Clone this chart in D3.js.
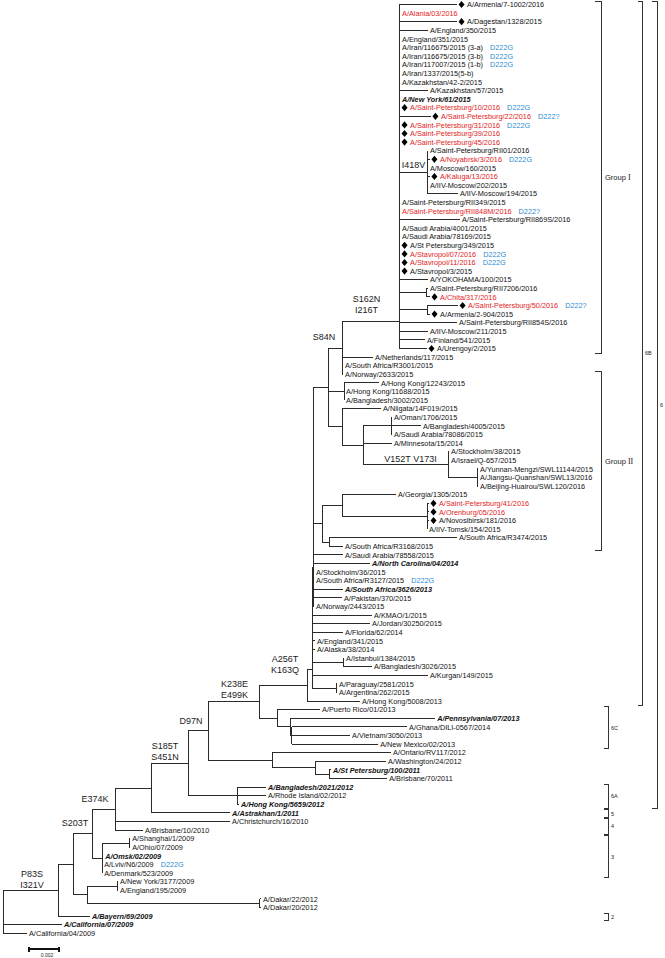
<!DOCTYPE html>
<html><head><meta charset="utf-8">
<script src="https://cdn.jsdelivr.net/npm/d3@7"></script>
<style>body{margin:0;background:#fff}</style>
</head><body>
<svg id="chart" width="665" height="958"></svg>
<script>
// ---------------- DATA ----------------
const strains = [
"A/Armenia/7-1002/2016","A/Alania/03/2016","A/Dagestan/1328/2015","A/England/350/2015","A/England/351/2015",
"A/Iran/116675/2015 (3-a)","A/Iran/116675/2015 (3-b)","A/Iran/117007/2015 (1-b)","A/Iran/1337/2015(5-b)","A/Kazakhstan/42-2/2015",
"A/Kazakhstan/57/2015","A/New York/61/2015","A/Saint-Petersburg/10/2016","A/Saint-Petersburg/22/2016","A/Saint-Petersburg/31/2016",
"A/Saint-Petersburg/39/2016","A/Saint-Petersburg/45/2016","A/Saint-Petersburg/RII01/2016","A/Noyabrsk/3/2016","A/Moscow/160/2015",
"A/Kaluga/13/2016","A/IIV-Moscow/202/2015","A/IIV-Moscow/194/2015","A/Saint-Petersburg/RII349/2015","A/Saint-Petersburg/RII848M/2016",
"A/Saint-Petersburg/RII869S/2016","A/Saudi Arabia/4001/2015","A/Saudi Arabia/78169/2015","A/St Petersburg/349/2015","A/Stavropol/07/2016",
"A/Stavropol/11/2016","A/Stavropol/3/2015","A/YOKOHAMA/100/2015","A/Saint-Petersburg/RII7206/2016","A/Chita/317/2016",
"A/Saint-Petersburg/50/2016","A/Armenia/2-904/2015","A/Saint-Petersburg/RII854S/2016","A/IIV-Moscow/211/2015","A/Finland/541/2015",
"A/Urengoy/2/2015","A/Netherlands/117/2015","A/South Africa/R3001/2015","A/Norway/2633/2015","A/Hong Kong/12243/2015",
"A/Hong Kong/11688/2015","A/Bangladesh/3002/2015","A/Niigata/14F019/2015","A/Oman/1706/2015","A/Bangladesh/4005/2015",
"A/Saudi Arabia/78086/2015","A/Minnesota/15/2014","A/Stockholm/38/2015","A/Israel/Q-657/2015","A/Yunnan-Mengzi/SWL11144/2015",
"A/Jiangsu-Quanshan/SWL13/2016","A/Beijing-Huairou/SWL120/2016","A/Georgia/1305/2015","A/Saint-Petersburg/41/2016","A/Orenburg/05/2016",
"A/Novosibirsk/181/2016","A/IIV-Tomsk/154/2015","A/South Africa/R3474/2015","A/South Africa/R3168/2015","A/Saudi Arabia/78558/2015",
"A/North Carolina/04/2014","A/Stockholm/36/2015","A/South Africa/R3127/2015","A/South Africa/3626/2013","A/Pakistan/370/2015",
"A/Norway/2443/2015","A/KMAO/1/2015","A/Jordan/30250/2015","A/Florida/62/2014","A/England/341/2015",
"A/Alaska/38/2014","A/Istanbul/1384/2015","A/Bangladesh/3026/2015","A/Kurgan/149/2015","A/Paraguay/2581/2015",
"A/Argentina/262/2015","A/Hong Kong/5008/2013","A/Puerto Rico/01/2013","A/Pennsylvania/07/2013","A/Ghana/DILI-0567/2014",
"A/Vietnam/3050/2013","A/New Mexico/02/2013","A/Ontario/RV117/2012","A/Washington/24/2012","A/St Petersburg/100/2011",
"A/Brisbane/70/2011","A/Bangladesh/2021/2012","A/Rhode Island/02/2012","A/Hong Kong/5659/2012","A/Astrakhan/1/2011",
"A/Christchurch/16/2010","A/Brisbane/10/2010","A/Shanghai/1/2009","A/Ohio/07/2009","A/Omsk/02/2009",
"A/Lviv/N6/2009","A/Denmark/523/2009","A/New York/3177/2009","A/England/195/2009","A/Dakar/22/2012",
"A/Dakar/20/2012","A/Bayern/69/2009","A/California/07/2009","A/California/04/2009"
];

// Tree topology (leaf names = index into strains), branch lengths in substitutions/site
const groupITree =
 "((((((0:0.00387,1:0.00007,2:0.00387,3:0.00193,4:0.00007,5:0.00007,6:0.00007,7:0.00007,8:0.00007,9:0.00007," +
 "10:0.00193,11:0.00007,12:0.00007,13:0.00213,14:0.00007,15:0.00007,16:0.00007," +
 "(17:0,18:0.00013,19:0,20:0.00013,21:0,22:0.002)I418V:0.00193," +
 "23:0.00007,24:0.00007,25:0.00407,26:0.00007,27:0.00007,28:0.00007,29:0.00007,30:0.00007,31:0.00007):0," +
 "32:0.00193):0,(33:0.00013,34:0.00027):0.0018,(35:0.00207,36:0.0002):0.00187):0," +
 "37:0.00387,38:0.00193):0,39:0.00173,40:0.00187)S162N";
const clade6BTree =
 "((((((((((" + groupITree + ":0.0038,41:0.00207,42:0.00007,43:0.00007)S84N:0.00093," +
 "(44:0.00233,45:0,46:0):0.00107," +
 "(47:0.0026,((48:0,49:0.00193,50:0):0.00193,51:0.00193,(52:0.00007,53:0.00007,(54:0.00007,55:0.00007,56:0.00007):0.00193)V152T:0.00567):0.0014):0.00093):0.001," +
 "((57:0.0036,(58:0.00013,59:0.00013,60:0.00013,61:0):0.00567):0.00133,(62:0.00853,63:0.00093):0.00047):0.0006," +
 "64:0.002,65:0.0038):0,66:0.00007,67:0.00007):0,68:0.002,69:0.00193,70:0.00007):0.00007," +
 "71:0.004,72:0.00387,73:0.00207):0,74:0.0002,75:0.0002):0,(76:0.00007,77:0.00193):0.00207,78:0.00773):0," +
 "(79:0.00007,80:0.00007):0.0016):0.00033,81:0.00353)A256T";
const fullTree =
 "(((((((((((" + clade6BTree + ":0.0032,(82:0.00287,(83:0.00967,(84:0.0077,85:0.0039,86:0.00577):0.0001):0.00087):0.0012)K238E:0.0034," +
 "(87:0.00793,(88:0.00473,(89:0.00013,90:0.00387):0.00093):0.00287):0.00427)D97N:0.00133," +
 "(91:0.00193,92:0.00193,93:0.00013):0.00327)S185T:0.00247,94:0.00527):0.0024,95:0.00767,96:0.00187)E374K:0.00153," +
 "((97:0.00007,98:0.00007):0.0018,99:0.00007,100:0,101:0):0.00067)S203T:0.00127," +
 "((102:0.00007,103:0.00007):0.002,(104:0.00007,105:0.00007):0.01153):0.00093):0.001,106:0.00213)P83S:0.00367," +
 "107:0.00393,108:0.0016);";

const redStrains = [1,12,13,14,15,16,18,20,24,29,30,34,35,58,59];
const diamondStrains = [0,2,12,13,14,15,16,18,20,28,29,30,31,34,35,36,40,58,59,60];
const boldItalicStrains = [11,65,68,83,89,91,93,94,99,106,107];
const d222GStrains = [5,6,7,12,14,18,29,30,67,100];
const d222QStrains = [13,24,35];

const mutationNodes = ["S162N","S84N","I418V","V152T","A256T","K238E","D97N","S185T","E374K","S203T","P83S"];
const mutationText = [["S162N","I216T"],["S84N"],["I418V"],["V152T V173I"],["A256T","K163Q"],["K238E","E499K"],["D97N"],["S185T","S451N"],["E374K"],["S203T"],["P83S","I321V"]];

const cladeNames = ["Group I","Group II","6B","6","6C","6A","5","4","3","2"];
const cladeFirst = [0,43,0,0,82,91,94,95,97,106];
const cladeLast  = [40,63,81,93,86,93,94,96,101,106];

const scaleBarValue = 0.002;

// ---------------- LAYOUT / STYLE ----------------
const W = 665, H = 958;
const leafFont = 7.3, mutFont = 9;
const lineColor = "#2b2b2b", redColor = "#e3231d", blueColor = "#2e8bcf";
const mutOffsets = { // [dx from branch middle, dy of last baseline from branch]
  S162N:[-4,-9], S84N:[-11,-8], I418V:[0,-4], V152T:[5,-2.5], A256T:[2,-12], K238E:[1,-4],
  D97N:[-7,-7], S185T:[-4.5,-3.5], E374K:[-8.5,-7], S203T:[-7.5,-7.5], P83S:[1.5,-2]
};
const bracketCol = {"Group I":[601,6,7.5], "Group II":[601,6,7.5], "6B":[642,4,5.5], "6":[657,5,5.5]};
const bracketDefault = [608,4,5.5];

// ---------------- PARSE ----------------
function parseNewick(s){
  let i = 0;
  function node(){
    const n = {children:[]};
    if (s[i] === "("){
      i++;
      while (true){
        n.children.push(node());
        if (s[i] === ","){ i++; } else { i++; break; }
      }
    }
    let name = "";
    while (i < s.length && !",():;".includes(s[i])) name += s[i++];
    n.name = name;
    if (s[i] === ":"){
      i++; let num = "";
      while (i < s.length && !",();".includes(s[i])) num += s[i++];
      n.length = +num;
    } else n.length = 0;
    return n;
  }
  return node();
}

const root = d3.hierarchy(parseNewick(fullTree), d => d.children.length ? d.children : null);
root.eachBefore(n => { n.dist = n.parent ? n.parent.dist + n.data.length : 0; });
const maxDist = d3.max(root.leaves(), d => d.dist);

const x = d3.scaleLinear().domain([0, scaleBarValue]).range([3, 33]);
const y = d3.scaleLinear().domain([0, strains.length - 1]).range([4.5, 933.3]);

root.eachAfter(n => {
  if (!n.children) n.y = y(+n.data.name);
  else n.y = (n.children[0].y + n.children[n.children.length - 1].y) / 2;
  n.x = x(n.dist);
});

const svg = d3.select("#chart");
const g = svg.append("g");

// branches
const lines = g.append("g").attr("stroke", lineColor).attr("stroke-width", 1).attr("shape-rendering","crispEdges");
root.descendants().forEach(n => {
  if (n.parent && n.x - n.parent.x > 0.3){
    lines.append("line").attr("x1", n.parent.x).attr("x2", n.x).attr("y1", n.y).attr("y2", n.y);
  }
  if (n.children){
    lines.append("line").attr("x1", n.x).attr("x2", n.x)
      .attr("y1", n.children[0].y).attr("y2", n.children[n.children.length-1].y);
  }
});

// leaves
const red = new Set(redStrains), dia = new Set(diamondStrains), bi = new Set(boldItalicStrains);
const dG = new Set(d222GStrains), dQ = new Set(d222QStrains);
const labels = g.append("g").attr("font-family", "'Liberation Sans', Arial, sans-serif").attr("font-size", leafFont);
root.leaves().forEach(n => {
  const id = +n.data.name;
  const hasDia = dia.has(id);
  if (hasDia){
    const cx = n.x + 4.5;
    labels.append("path").attr("d", `M${cx},${n.y-3.6}L${cx+3},${n.y}L${cx},${n.y+3.6}L${cx-3},${n.y}Z`).attr("fill", "#000");
  }
  const tx = n.x + (hasDia ? 10 : 2);
  const t = labels.append("text").attr("x", tx).attr("y", n.y + 2.6)
    .attr("fill", red.has(id) ? redColor : "#111")
    .text(strains[id]);
  if (bi.has(id)) t.attr("font-weight", "bold").attr("font-style", "italic");
  if (dG.has(id) || dQ.has(id)){
    const len = t.node().getComputedTextLength();
    labels.append("text").attr("x", tx + len + 7).attr("y", n.y + 2.6)
      .attr("fill", blueColor).text(dG.has(id) ? "D222G" : "D222?");
  }
});

// mutation labels
const byName = new Map(root.descendants().filter(d => d.children && d.data.name).map(d => [d.data.name, d]));
const mg = g.append("g").attr("font-family", "'Liberation Sans', Arial, sans-serif").attr("font-size", mutFont)
  .attr("fill", "#222").attr("text-anchor", "middle");
mutationNodes.forEach((nm, k) => {
  const n = byName.get(nm);
  const off = mutOffsets[nm] || [0,-4];
  const cx = (n.parent.x + n.x) / 2 + off[0];
  const lastBase = n.y + off[1];
  const ls = mutationText[k];
  ls.forEach((s, j) => {
    mg.append("text").attr("x", cx).attr("y", lastBase - (ls.length - 1 - j) * 10.8).text(s);
  });
});

// clade brackets
const bg = g.append("g");
cladeNames.forEach((name, k) => {
  const [bx, tick, fs] = bracketCol[name] || bracketDefault;
  const y0 = y(cladeFirst[k]) - 3, y1 = y(cladeLast[k]) + 4.5;
  bg.append("path").attr("d", `M${bx-tick},${y0}H${bx}V${y1}H${bx-tick}`)
    .attr("fill", "none").attr("stroke", "#333").attr("stroke-width", 1).attr("shape-rendering","crispEdges");
  const t = bg.append("text").attr("x", bx + (name.startsWith("Group") ? 4 : 3)).attr("y", (y0 + y1) / 2 + fs * 0.35)
    .attr("font-family", "'Liberation Sans', Arial, sans-serif").attr("font-size", fs).attr("fill", "#222");
  if (name.startsWith("Group")){
    const parts = name.split(" ");
    t.append("tspan").text(parts[0] + " ");
    t.append("tspan").attr("font-family", "'Liberation Serif', serif").attr("font-size", fs + 0.5).text(parts[1]);
  } else t.text(name);
});

// scale bar
const sbx = 29, sby = 949, sbw = x(scaleBarValue) - x(0);
const sb = g.append("g").attr("stroke", "#111").attr("stroke-width", 1.2).attr("shape-rendering","crispEdges");
sb.append("line").attr("x1", sbx).attr("x2", sbx + sbw).attr("y1", sby).attr("y2", sby);
sb.append("line").attr("x1", sbx).attr("x2", sbx).attr("y1", sby - 2.5).attr("y2", sby + 2.5);
sb.append("line").attr("x1", sbx + sbw).attr("x2", sbx + sbw).attr("y1", sby - 2.5).attr("y2", sby + 2.5);
g.append("text").attr("x", sbx + sbw / 2 + 3).attr("y", 957).attr("text-anchor", "middle")
  .attr("font-family", "'Liberation Sans', Arial, sans-serif").attr("font-size", 5).attr("fill", "#222")
  .text(String(scaleBarValue));
</script>
</body></html>
